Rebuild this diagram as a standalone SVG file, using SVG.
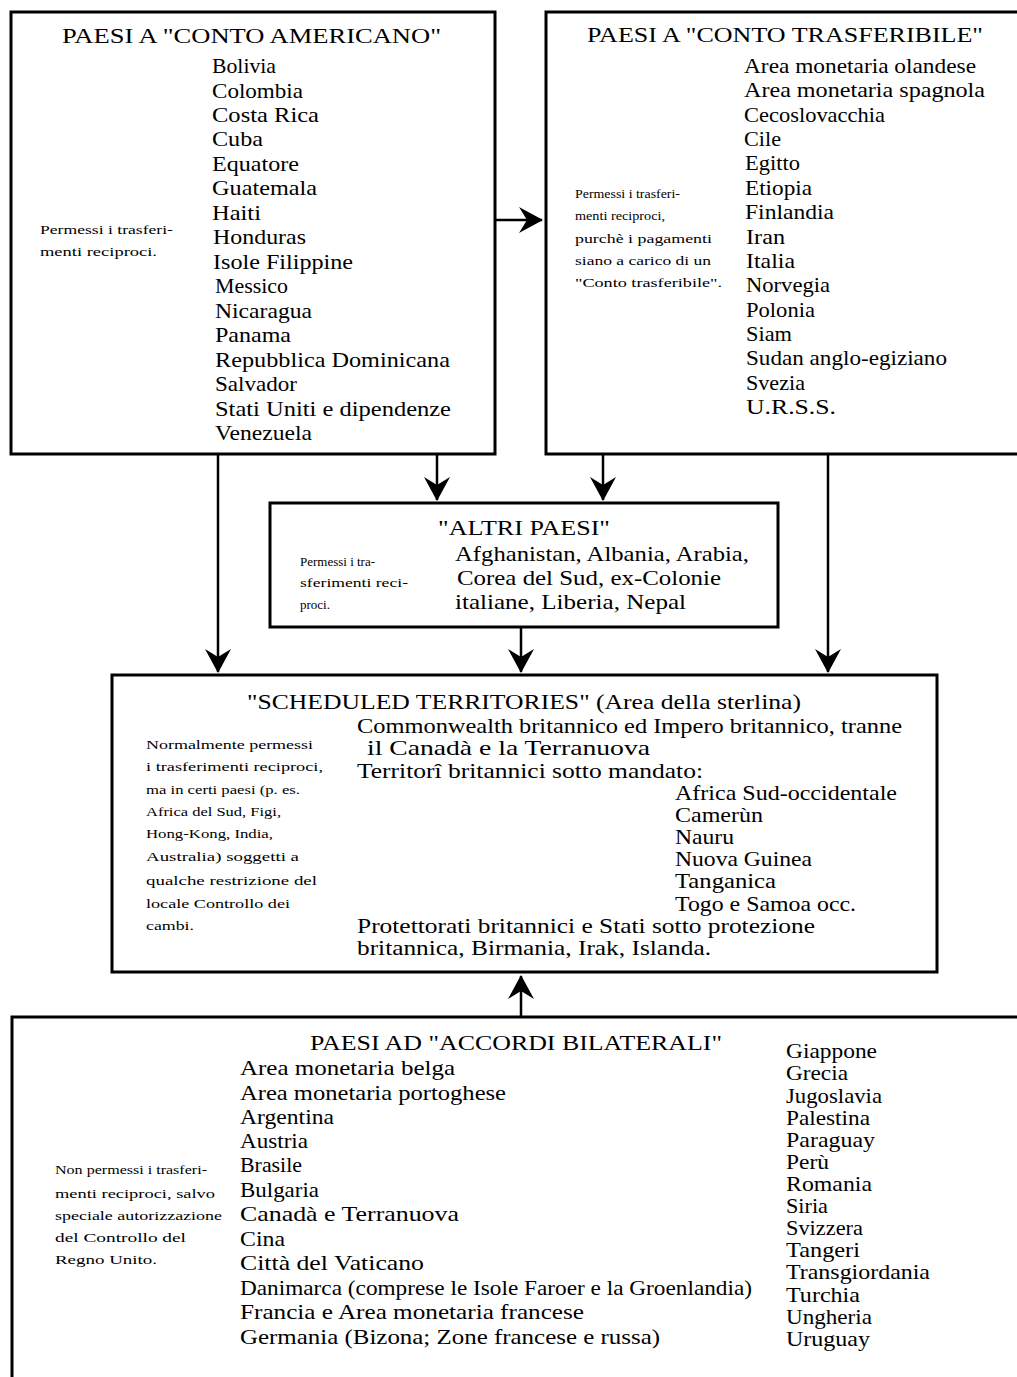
<svg xmlns="http://www.w3.org/2000/svg" width="1017" height="1377" viewBox="0 0 1017 1377">
<style>
text{font-family:"Liberation Serif","DejaVu Serif",serif;fill:#000}
.t{font-size:21px}
.i{font-size:21px}
.n{font-size:13px}
.b{fill:#fff;stroke:#000;stroke-width:3}
.c{stroke:#000;stroke-width:2.5;fill:none}
</style>
<defs>
<marker id="ah" viewBox="0 0 24 26" refX="23" refY="13" markerWidth="24" markerHeight="26" markerUnits="userSpaceOnUse" orient="auto">
<path d="M0,0 L24,13 L0,26 L8,13 Z" fill="#000"/>
</marker>
</defs>
<rect width="1017" height="1377" fill="#fff"/>

<g id="connectors">
<line class="c" x1="496" y1="220" x2="542" y2="220" marker-end="url(#ah)"/>
<line class="c" x1="218" y1="455" x2="218" y2="672" marker-end="url(#ah)"/>
<line class="c" x1="437" y1="455" x2="437" y2="500" marker-end="url(#ah)"/>
<line class="c" x1="603" y1="455" x2="603" y2="500" marker-end="url(#ah)"/>
<line class="c" x1="828" y1="455" x2="828" y2="672" marker-end="url(#ah)"/>
<line class="c" x1="521" y1="627" x2="521" y2="672" marker-end="url(#ah)"/>
<line class="c" x1="521" y1="1017" x2="521" y2="976" marker-end="url(#ah)"/>
</g>

<g id="conto-americano">
<rect class="b" x="11" y="12" width="484" height="442"/>
<text class="t" x="62" y="43" textLength="379" lengthAdjust="spacingAndGlyphs">PAESI A "CONTO AMERICANO"</text>
<text class="n" x="40" y="234" textLength="133" lengthAdjust="spacingAndGlyphs">Permessi i trasferi-</text>
<text class="n" x="40" y="256" textLength="117" lengthAdjust="spacingAndGlyphs">menti reciproci.</text>
<text class="i" x="212" y="73" textLength="64" lengthAdjust="spacingAndGlyphs">Bolivia</text>
<text class="i" x="212" y="97.5" textLength="91" lengthAdjust="spacingAndGlyphs">Colombia</text>
<text class="i" x="212" y="122" textLength="107" lengthAdjust="spacingAndGlyphs">Costa Rica</text>
<text class="i" x="212" y="146.4" textLength="51" lengthAdjust="spacingAndGlyphs">Cuba</text>
<text class="i" x="212" y="170.9" textLength="87" lengthAdjust="spacingAndGlyphs">Equatore</text>
<text class="i" x="212" y="195.4" textLength="105" lengthAdjust="spacingAndGlyphs">Guatemala</text>
<text class="i" x="212" y="219.8" textLength="49" lengthAdjust="spacingAndGlyphs">Haiti</text>
<text class="i" x="213" y="244.3" textLength="93" lengthAdjust="spacingAndGlyphs">Honduras</text>
<text class="i" x="213" y="268.8" textLength="140" lengthAdjust="spacingAndGlyphs">Isole Filippine</text>
<text class="i" x="215" y="293.2" textLength="73" lengthAdjust="spacingAndGlyphs">Messico</text>
<text class="i" x="215" y="317.7" textLength="97" lengthAdjust="spacingAndGlyphs">Nicaragua</text>
<text class="i" x="215" y="342.2" textLength="76" lengthAdjust="spacingAndGlyphs">Panama</text>
<text class="i" x="215" y="366.6" textLength="235" lengthAdjust="spacingAndGlyphs">Repubblica Dominicana</text>
<text class="i" x="215" y="391.1" textLength="82" lengthAdjust="spacingAndGlyphs">Salvador</text>
<text class="i" x="215" y="415.6" textLength="236" lengthAdjust="spacingAndGlyphs">Stati Uniti e dipendenze</text>
<text class="i" x="215" y="440" textLength="97" lengthAdjust="spacingAndGlyphs">Venezuela</text>
</g>

<g id="conto-trasferibile">
<rect class="b" x="546" y="12" width="480" height="442"/>
<text class="t" x="587" y="42" textLength="396" lengthAdjust="spacingAndGlyphs">PAESI A "CONTO TRASFERIBILE"</text>
<text class="n" x="575" y="198" textLength="105" lengthAdjust="spacingAndGlyphs">Permessi i trasferi-</text>
<text class="n" x="575" y="220" textLength="90" lengthAdjust="spacingAndGlyphs">menti reciproci,</text>
<text class="n" x="575" y="243" textLength="137" lengthAdjust="spacingAndGlyphs">purchè i pagamenti</text>
<text class="n" x="575" y="265" textLength="136" lengthAdjust="spacingAndGlyphs">siano a carico di un</text>
<text class="n" x="575" y="287" textLength="147" lengthAdjust="spacingAndGlyphs">"Conto trasferibile".</text>
<text class="i" x="744" y="73" textLength="232" lengthAdjust="spacingAndGlyphs">Area monetaria olandese</text>
<text class="i" x="744" y="97.4" textLength="241" lengthAdjust="spacingAndGlyphs">Area  monetaria spagnola</text>
<text class="i" x="744" y="121.7" textLength="141" lengthAdjust="spacingAndGlyphs">Cecoslovacchia</text>
<text class="i" x="744" y="146.1" textLength="37" lengthAdjust="spacingAndGlyphs">Cile</text>
<text class="i" x="745" y="170.4" textLength="55" lengthAdjust="spacingAndGlyphs">Egitto</text>
<text class="i" x="745" y="194.8" textLength="67" lengthAdjust="spacingAndGlyphs">Etiopia</text>
<text class="i" x="745" y="219.2" textLength="89" lengthAdjust="spacingAndGlyphs">Finlandia</text>
<text class="i" x="746" y="243.5" textLength="39" lengthAdjust="spacingAndGlyphs">Iran</text>
<text class="i" x="746" y="267.9" textLength="49" lengthAdjust="spacingAndGlyphs">Italia</text>
<text class="i" x="746" y="292.2" textLength="84" lengthAdjust="spacingAndGlyphs">Norvegia</text>
<text class="i" x="746" y="316.6" textLength="69" lengthAdjust="spacingAndGlyphs">Polonia</text>
<text class="i" x="746" y="341" textLength="46" lengthAdjust="spacingAndGlyphs">Siam</text>
<text class="i" x="746" y="365.3" textLength="201" lengthAdjust="spacingAndGlyphs">Sudan anglo-egiziano</text>
<text class="i" x="746" y="389.7" textLength="59" lengthAdjust="spacingAndGlyphs">Svezia</text>
<text class="i" x="746" y="414" textLength="90" lengthAdjust="spacingAndGlyphs">U.R.S.S.</text>
</g>

<g id="altri-paesi">
<rect class="b" x="270" y="503" width="508" height="124"/>
<text class="t" x="438" y="535" textLength="172" lengthAdjust="spacingAndGlyphs">"ALTRI PAESI"</text>
<text class="n" x="300" y="566" textLength="75" lengthAdjust="spacingAndGlyphs">Permessi i tra-</text>
<text class="n" x="300" y="587" textLength="108" lengthAdjust="spacingAndGlyphs">sferimenti reci-</text>
<text class="n" x="300" y="609" textLength="30" lengthAdjust="spacingAndGlyphs">proci.</text>
<text class="i" x="455" y="561" textLength="294" lengthAdjust="spacingAndGlyphs">Afghanistan, Albania, Arabia,</text>
<text class="i" x="457" y="585" textLength="264" lengthAdjust="spacingAndGlyphs">Corea del Sud, ex-Colonie</text>
<text class="i" x="455" y="609" textLength="231" lengthAdjust="spacingAndGlyphs">italiane, Liberia, Nepal</text>
</g>

<g id="scheduled-territories">
<rect class="b" x="112" y="675" width="825" height="297"/>
<text class="t" x="247" y="709" textLength="554" lengthAdjust="spacingAndGlyphs">"SCHEDULED TERRITORIES" (Area della sterlina)</text>
<text class="n" x="146" y="749" textLength="167" lengthAdjust="spacingAndGlyphs">Normalmente permessi</text>
<text class="n" x="146" y="771" textLength="177" lengthAdjust="spacingAndGlyphs">i trasferimenti reciproci,</text>
<text class="n" x="146" y="794" textLength="154" lengthAdjust="spacingAndGlyphs">ma in certi paesi (p. es.</text>
<text class="n" x="146" y="816" textLength="135" lengthAdjust="spacingAndGlyphs">Africa del Sud, Figi,</text>
<text class="n" x="146" y="838" textLength="127" lengthAdjust="spacingAndGlyphs">Hong-Kong, India,</text>
<text class="n" x="146" y="861" textLength="153" lengthAdjust="spacingAndGlyphs">Australia) soggetti a</text>
<text class="n" x="146" y="885" textLength="171" lengthAdjust="spacingAndGlyphs">qualche restrizione del</text>
<text class="n" x="146" y="908" textLength="144" lengthAdjust="spacingAndGlyphs">locale Controllo dei</text>
<text class="n" x="146" y="930" textLength="48" lengthAdjust="spacingAndGlyphs">cambi.</text>
<text class="i" x="357" y="733" textLength="545" lengthAdjust="spacingAndGlyphs">Commonwealth britannico ed Impero britannico, tranne</text>
<text class="i" x="367" y="755" textLength="283" lengthAdjust="spacingAndGlyphs">il Canadà e la Terranuova</text>
<text class="i" x="357" y="778" textLength="346" lengthAdjust="spacingAndGlyphs">Territorî britannici sotto mandato:</text>
<text class="i" x="675" y="800" textLength="222" lengthAdjust="spacingAndGlyphs">Africa Sud-occidentale</text>
<text class="i" x="675" y="822" textLength="88" lengthAdjust="spacingAndGlyphs">Camerùn</text>
<text class="i" x="675" y="844" textLength="59" lengthAdjust="spacingAndGlyphs">Nauru</text>
<text class="i" x="675" y="866" textLength="137" lengthAdjust="spacingAndGlyphs">Nuova Guinea</text>
<text class="i" x="675" y="888" textLength="101" lengthAdjust="spacingAndGlyphs">Tanganica</text>
<text class="i" x="675" y="911" textLength="181" lengthAdjust="spacingAndGlyphs">Togo e Samoa occ.</text>
<text class="i" x="357" y="933" textLength="458" lengthAdjust="spacingAndGlyphs">Protettorati britannici e Stati sotto protezione</text>
<text class="i" x="357" y="955" textLength="354" lengthAdjust="spacingAndGlyphs">britannica, Birmania, Irak, Islanda.</text>
</g>

<g id="accordi-bilaterali">
<rect class="b" x="12" y="1017" width="1020" height="380"/>
<text class="t" x="310" y="1050" textLength="412" lengthAdjust="spacingAndGlyphs">PAESI AD "ACCORDI BILATERALI"</text>
<text class="n" x="55" y="1174" textLength="152" lengthAdjust="spacingAndGlyphs">Non permessi i trasferi-</text>
<text class="n" x="55" y="1198" textLength="160" lengthAdjust="spacingAndGlyphs">menti reciproci, salvo</text>
<text class="n" x="55" y="1220" textLength="167" lengthAdjust="spacingAndGlyphs">speciale autorizzazione</text>
<text class="n" x="55" y="1242" textLength="131" lengthAdjust="spacingAndGlyphs">del Controllo del</text>
<text class="n" x="55" y="1264" textLength="102" lengthAdjust="spacingAndGlyphs">Regno Unito.</text>
<text class="i" x="240" y="1075" textLength="215" lengthAdjust="spacingAndGlyphs">Area monetaria belga</text>
<text class="i" x="240" y="1100" textLength="266" lengthAdjust="spacingAndGlyphs">Area monetaria portoghese</text>
<text class="i" x="240" y="1124" textLength="94" lengthAdjust="spacingAndGlyphs">Argentina</text>
<text class="i" x="240" y="1148" textLength="68" lengthAdjust="spacingAndGlyphs">Austria</text>
<text class="i" x="240" y="1172" textLength="62" lengthAdjust="spacingAndGlyphs">Brasile</text>
<text class="i" x="240" y="1197" textLength="79" lengthAdjust="spacingAndGlyphs">Bulgaria</text>
<text class="i" x="240" y="1221" textLength="219" lengthAdjust="spacingAndGlyphs">Canadà e Terranuova</text>
<text class="i" x="240" y="1246" textLength="45" lengthAdjust="spacingAndGlyphs">Cina</text>
<text class="i" x="240" y="1270" textLength="184" lengthAdjust="spacingAndGlyphs">Città del Vaticano</text>
<text class="i" x="240" y="1295" textLength="512" lengthAdjust="spacingAndGlyphs">Danimarca (comprese le Isole Faroer e la Groenlandia)</text>
<text class="i" x="240" y="1319" textLength="344" lengthAdjust="spacingAndGlyphs">Francia e Area monetaria francese</text>
<text class="i" x="240" y="1344" textLength="420" lengthAdjust="spacingAndGlyphs">Germania (Bizona; Zone francese e russa)</text>
<text class="i" x="786" y="1058" textLength="91" lengthAdjust="spacingAndGlyphs">Giappone</text>
<text class="i" x="786" y="1080" textLength="62" lengthAdjust="spacingAndGlyphs">Grecia</text>
<text class="i" x="786" y="1103" textLength="96" lengthAdjust="spacingAndGlyphs">Jugoslavia</text>
<text class="i" x="786" y="1125" textLength="84" lengthAdjust="spacingAndGlyphs">Palestina</text>
<text class="i" x="786" y="1147" textLength="89" lengthAdjust="spacingAndGlyphs">Paraguay</text>
<text class="i" x="786" y="1169" textLength="43" lengthAdjust="spacingAndGlyphs">Perù</text>
<text class="i" x="786" y="1191" textLength="86" lengthAdjust="spacingAndGlyphs">Romania</text>
<text class="i" x="786" y="1213" textLength="42" lengthAdjust="spacingAndGlyphs">Siria</text>
<text class="i" x="786" y="1235" textLength="77" lengthAdjust="spacingAndGlyphs">Svizzera</text>
<text class="i" x="786" y="1257" textLength="74" lengthAdjust="spacingAndGlyphs">Tangeri</text>
<text class="i" x="786" y="1279" textLength="144" lengthAdjust="spacingAndGlyphs">Transgiordania</text>
<text class="i" x="786" y="1302" textLength="74" lengthAdjust="spacingAndGlyphs">Turchia</text>
<text class="i" x="786" y="1324" textLength="86" lengthAdjust="spacingAndGlyphs">Ungheria</text>
<text class="i" x="786" y="1346" textLength="84" lengthAdjust="spacingAndGlyphs">Uruguay</text>
</g>
</svg>
